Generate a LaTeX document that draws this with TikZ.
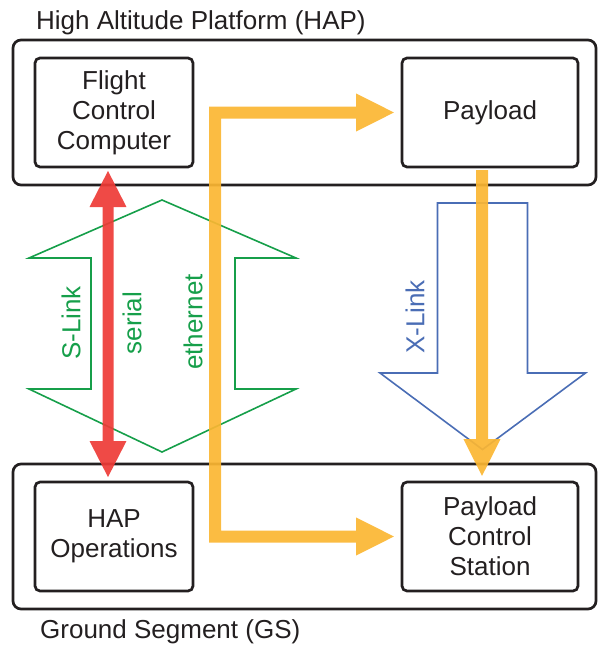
\documentclass[tikz,border=0pt]{standalone}
\usepackage{fontspec}
\setmainfont{Liberation Sans}
\usetikzlibrary{arrows.meta}
\definecolor{ink}{HTML}{231F20}
\definecolor{sgreen}{HTML}{169F4A}
\definecolor{xblue}{HTML}{4A6DB5}
\definecolor{ethy}{HTML}{FBB632}
\definecolor{serred}{HTML}{EE3B36}
\tikzset{
  txt/.style={font=\fontsize{26}{30}\selectfont, text=ink},
  segment/.style={draw=ink, line width=2.7pt, rounded corners=8pt},
  unit/.style={draw=ink, line width=2.7pt, rounded corners=5pt, outer sep=0pt,
    minimum width=158pt, minimum height=109pt, inner sep=0pt, align=center, txt},
  linkshape/.style={line width=1.6pt, line join=miter},
  fat/.style={-{Triangle[length=38pt,width=34pt]}},
  serialarrow/.style={{Triangle[length=37pt,width=34pt]}-{Triangle[length=37pt,width=34pt]},
    draw=serred, line width=11pt},
  etharrow/.style={fat, draw=ethy, line width=12pt},
  flows/.style={transparency group, opacity=0.92},
  vlabel/.style={rotate=90, font=\fontsize{26}{30}\selectfont}
}
\begin{document}
\begin{tikzpicture}[x=1pt,y=-1pt]
\useasboundingbox (0,0) rectangle (597,645);

% segment frames and their titles
\draw[segment] (13,40) rectangle (596,185);
\draw[segment] (13,464) rectangle (596,609);
\node[txt, anchor=base west, inner sep=0pt] (haptitle) at (36,29) {High Altitude Platform (HAP)};
\node[txt, anchor=base west, inner sep=0pt] (gstitle) at (40,638) {Ground Segment (GS)};

% units
\node[unit] (fcc) at (114,112.5) {\fontsize{26}{30.5}\selectfont Flight\\Control\\Computer};
\node[unit, minimum width=176pt] (pay) at (490,112.5) {Payload};
\node[unit] (hapops) at (114,536.5) {\fontsize{26}{35}\selectfont HAP\\Operations};
\node[unit, minimum width=176pt] (pcs) at (490,536.5) {\fontsize{26}{32.5}\selectfont Payload\\Control\\Station};

% S-Link: bidirectional block arrow
\draw[linkshape, draw=sgreen]
  (162,200) -- (296,258) -- (235,258) -- (235,389) -- (296,389) -- (162,452)
  -- (29,389) -- (91,389) -- (91,258) -- (29,258) -- cycle;
% X-Link: downward block arrow
\draw[linkshape, draw=xblue]
  (437.5,203) -- (527.5,203) -- (527.5,373) -- (585.5,373) -- (482.5,449.5)
  -- (380,373) -- (437.5,373) -- cycle;

% link labels
\node[vlabel, text=sgreen] (slink) at (71,323) {S-Link};
\node[vlabel, text=sgreen] (serial) at (132,323) {serial};
\node[vlabel, text=sgreen] (ethernet) at (193,322) {ethernet};
\node[vlabel, text=xblue] (xlink) at (415,317) {X-Link};

% data flows, each blended as a whole so the heads do not show seams
\begin{scope}[flows]
\draw[serialarrow] ([xshift=-6pt,yshift=-3pt]fcc.south) -- ([xshift=-6pt,yshift=4pt]hapops.north);
\end{scope}
\begin{scope}[flows]
\draw[etharrow] ([xshift=-8pt,yshift=-3pt]pay.south) -- ([xshift=-8pt,yshift=5pt]pcs.north);
\end{scope}
\begin{scope}[flows]
\draw[etharrow, {Triangle[length=39pt,width=35pt]}-{Triangle[length=39pt,width=35pt]}]
  ([xshift=-7pt]pay.west) -- ++(-180pt,0pt) |- ([xshift=-7pt]pcs.west);
\end{scope}
\end{tikzpicture}
\end{document}
